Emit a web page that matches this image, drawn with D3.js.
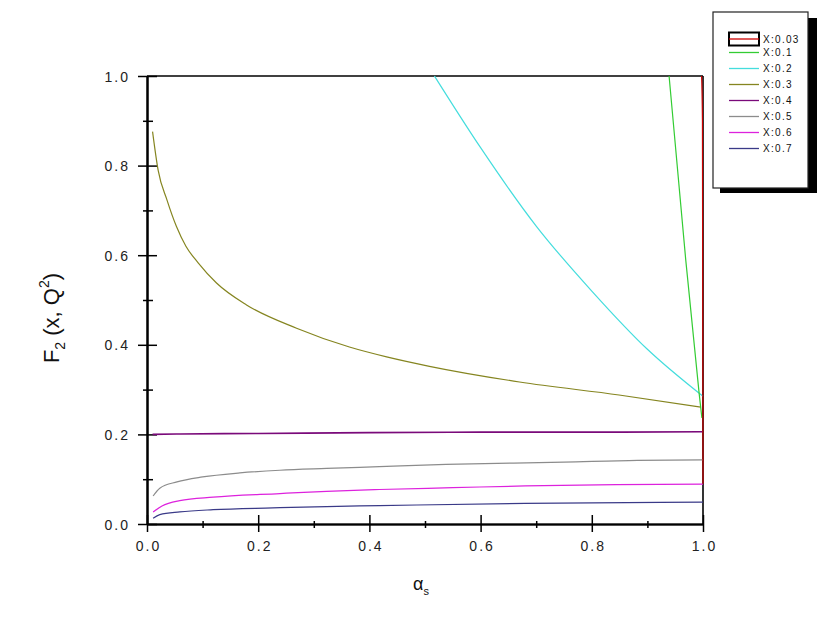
<!DOCTYPE html>
<html><head><meta charset="utf-8">
<script src="https://cdn.jsdelivr.net/npm/d3@7"></script>
<style>body{margin:0;background:#fff}svg{display:block}text{font-family:"Liberation Sans",Arial,sans-serif}</style>
</head><body>
<svg id="c" width="817" height="623"></svg>
<script>
// ---- data ----
const seriesNames = ["X:0.03","X:0.1","X:0.2","X:0.3","X:0.4","X:0.5","X:0.6","X:0.7"];
const seriesColors = ["#cc0000","#33cc33","#44dddd","#858520","#7a0a7a","#8c8c8c","#dd22dd","#3a3a88"];
const alpha003 = [0.9975, 0.999, 1.0];
const f2_003   = [1.0, 0.9, 0.09];
const alpha01  = [0.939, 0.969, 0.993, 0.998];
const f2_01    = [1.0, 0.589, 0.292, 0.237];
const alpha02  = [0.517, 0.6, 0.7, 0.8, 0.9, 1.0];
const f2_02    = [1.0, 0.84, 0.665, 0.52, 0.39, 0.285];
const alpha03  = [0.010, 0.020, 0.036, 0.053, 0.070, 0.092, 0.125, 0.179, 0.269, 0.364, 0.431, 0.508, 0.67, 0.849, 0.996];
const f2_03    = [0.876, 0.79, 0.723, 0.664, 0.62, 0.583, 0.538, 0.489, 0.437, 0.395, 0.373, 0.352, 0.317, 0.288, 0.261];
const alpha04  = [0.01, 0.06, 0.2, 0.4, 0.6, 0.8, 1.0];
const f2_04    = [0.200, 0.201, 0.202, 0.204, 0.205, 0.205, 0.206];
const alpha05  = [0.011, 0.023, 0.054, 0.10, 0.167, 0.239, 0.323, 0.418, 0.538, 0.75, 0.882, 1.0];
const f2_05    = [0.0625, 0.08, 0.094, 0.105, 0.114, 0.120, 0.124, 0.128, 0.133, 0.138, 0.142, 0.143];
const alpha06  = [0.011, 0.027, 0.059, 0.119, 0.239, 0.323, 0.418, 0.55, 0.68, 0.844, 1.0];
const f2_06    = [0.027, 0.040, 0.052, 0.060, 0.068, 0.073, 0.077, 0.081, 0.085, 0.0880, 0.089];
const alpha07  = [0.011, 0.023, 0.059, 0.119, 0.226, 0.323, 0.418, 0.68, 1.0];
const f2_07    = [0.013, 0.021, 0.027, 0.032, 0.036, 0.039, 0.041, 0.046, 0.049];
const xMajor = [0, 0.2, 0.4, 0.6, 0.8, 1.0];
const xMinor = [0.1, 0.3, 0.5, 0.7, 0.9];
const yMajor = [0, 0.2, 0.4, 0.6, 0.8, 1.0];
const yMinor = [0.1, 0.3, 0.5, 0.7, 0.9];

const seriesAlpha = [alpha003, alpha01, alpha02, alpha03, alpha04, alpha05, alpha06, alpha07];
const seriesF2 = [f2_003, f2_01, f2_02, f2_03, f2_04, f2_05, f2_06, f2_07];

// ---- chart ----
const svg = d3.select("#c");
const L = 147, R = 703, T = 76, B = 524;
const x = d3.scaleLinear().domain([0, 1]).range([L, R]);
const y = d3.scaleLinear().domain([0, 1]).range([B, T]);
const fmt = d3.format(".1f");

// frame (top & right)
svg.append("line").attr("x1", L).attr("x2", R).attr("y1", T).attr("y2", T).attr("stroke", "#000").attr("stroke-width", 1.6);
svg.append("line").attr("x1", R).attr("x2", R).attr("y1", T).attr("y2", B).attr("stroke", "#000").attr("stroke-width", 1.6);

function styleAxis(g){ g.select(".domain").attr("stroke","#000").attr("stroke-width",1.6); g.selectAll(".tick line").attr("stroke","#000").attr("stroke-width",1.5); }

// Y axis: major outside + inside
svg.append("g").attr("transform", `translate(${L},0)`)
  .call(d3.axisLeft(y).tickValues(yMajor).tickSize(9).tickPadding(8).tickFormat(fmt).tickSizeOuter(0))
  .call(styleAxis)
  .call(g => g.selectAll("text").attr("font-size", 14).attr("letter-spacing", "2px").attr("fill", "#222").attr("dy", "0.36em"));
svg.append("g").attr("transform", `translate(${L},0)`)
  .call(d3.axisRight(y).tickValues(yMajor).tickSize(10).tickFormat("").tickSizeOuter(0))
  .call(styleAxis);
svg.append("g").attr("transform", `translate(${L},0)`)
  .call(d3.axisLeft(y).tickValues(yMinor).tickSize(4).tickFormat("").tickSizeOuter(0))
  .call(styleAxis);
svg.append("g").attr("transform", `translate(${L},0)`)
  .call(d3.axisRight(y).tickValues(yMinor).tickSize(6).tickFormat("").tickSizeOuter(0))
  .call(styleAxis);

// X axis
svg.append("g").attr("transform", `translate(0,${B})`)
  .call(d3.axisBottom(x).tickValues(xMajor).tickSize(8).tickPadding(9).tickFormat(fmt).tickSizeOuter(0))
  .call(styleAxis)
  .call(g => g.selectAll("text").attr("font-size", 14).attr("letter-spacing", "2px").attr("fill", "#222").attr("dx", "1px"));
svg.append("g").attr("transform", `translate(0,${B})`)
  .call(d3.axisTop(x).tickValues(xMajor).tickSize(9).tickFormat("").tickSizeOuter(0))
  .call(styleAxis);
svg.append("g").attr("transform", `translate(0,${B})`)
  .call(d3.axisBottom(x).tickValues(xMinor).tickSize(4).tickFormat("").tickSizeOuter(0))
  .call(styleAxis);
svg.append("g").attr("transform", `translate(0,${B})`)
  .call(d3.axisTop(x).tickValues(xMinor).tickSize(3).tickFormat("").tickSizeOuter(0))
  .call(styleAxis);

// lines
const line = d3.line().curve(d3.curveMonotoneX).x(d => x(d[0])).y(d => y(d[1]));
const order = [3,4,5,6,7,2,1,0];
order.forEach(i => {
  const pts = seriesAlpha[i].map((a, k) => [a, seriesF2[i][k]]);
  svg.append("path").datum(pts).attr("d", line).attr("fill", "none")
    .attr("stroke", seriesColors[i]).attr("stroke-width", i === 4 ? 1.6 : 1.2);
});

// axis titles
const yl = svg.append("text").attr("transform", "translate(59,318) rotate(-90)")
  .attr("text-anchor", "middle").attr("font-size", 22).attr("fill", "#111");
yl.append("tspan").text("F");
yl.append("tspan").attr("font-size", 14).attr("dy", 6).text("2");
yl.append("tspan").attr("dy", -6).text(" (x, Q");
yl.append("tspan").attr("font-size", 14).attr("dy", -10).text("2");
yl.append("tspan").attr("dy", 10).text(")");

const xl = svg.append("text").attr("x", 421).attr("y", 590).attr("text-anchor", "middle").attr("font-size", 18).attr("fill", "#111");
xl.append("tspan").text("α");
xl.append("tspan").attr("font-size", 11).attr("dy", 5).text("s");

// legend
const lg = svg.append("g");
lg.append("rect").attr("x", 720).attr("y", 18).attr("width", 97).attr("height", 175).attr("fill", "#000");
lg.append("rect").attr("x", 713).attr("y", 12).attr("width", 95).attr("height", 176).attr("fill", "#fff").attr("stroke", "#222").attr("stroke-width", 1.2);
seriesNames.forEach((name, i) => {
  const ry = i === 0 ? 39 : 52.5 + (i - 1) * 16;
  if (i === 0) {
    lg.append("rect").attr("x", 729).attr("y", ry - 6.5).attr("width", 30).attr("height", 13)
      .attr("fill", "#fff").attr("stroke", "#000").attr("stroke-width", 2);
  }
  lg.append("line").attr("x1", 729).attr("x2", 759).attr("y1", ry).attr("y2", ry)
    .attr("stroke", seriesColors[i]).attr("stroke-width", 1.3);
  lg.append("text").attr("x", 763).attr("y", ry).attr("dy", "0.36em").attr("font-size", 10)
    .attr("letter-spacing", "1.3px").attr("fill", "#111").text(name);
});
</script>
</body></html>
